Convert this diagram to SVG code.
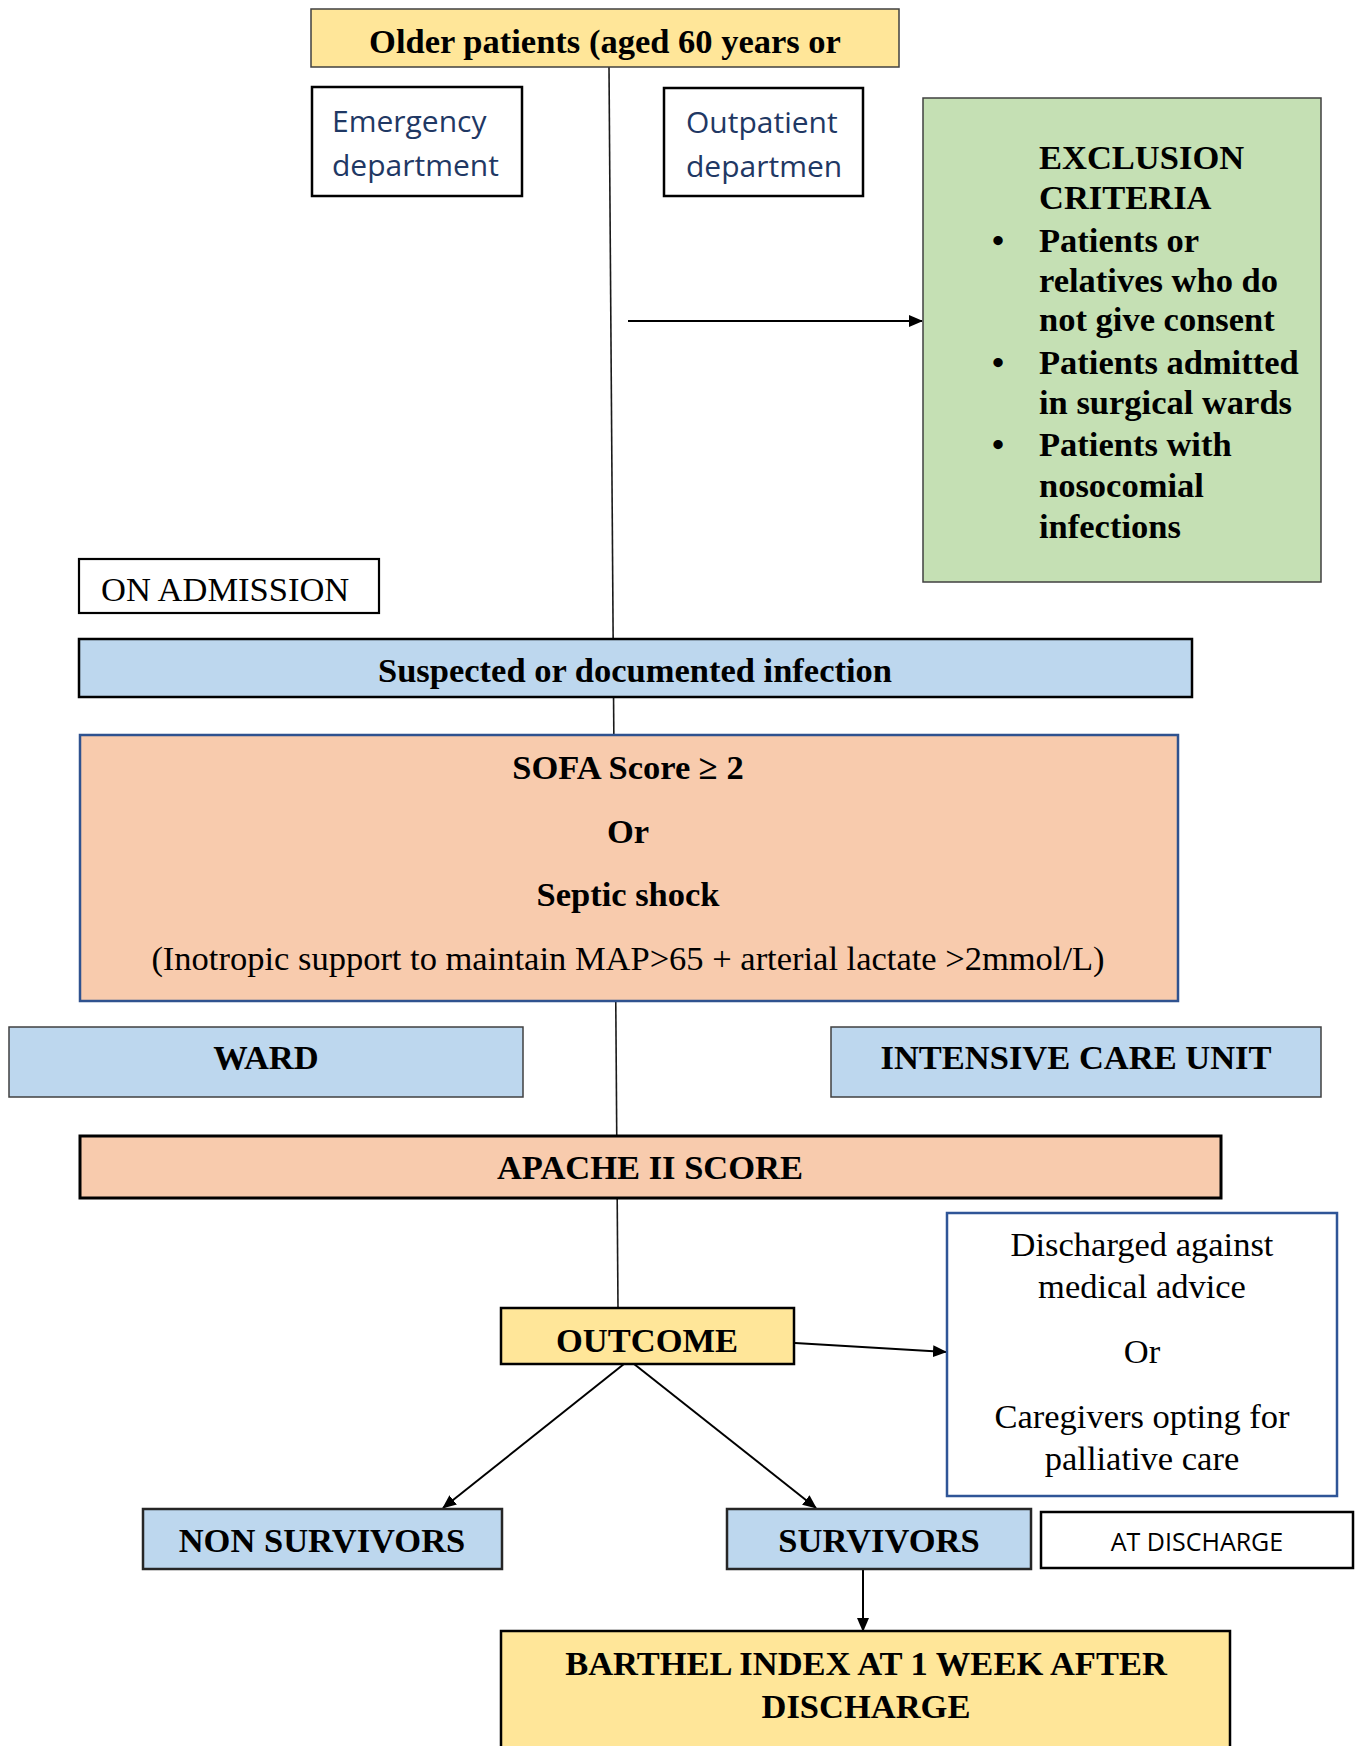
<svg xmlns="http://www.w3.org/2000/svg" width="1360" height="1746" viewBox="0 0 1360 1746">
<style>
.b{font-family:"Liberation Serif","Times New Roman",serif;font-weight:bold;font-size:34.5px;fill:#000}
.r{font-family:"Liberation Serif","Times New Roman",serif;font-size:34.5px;fill:#000}
.s{font-family:"Open Sans","Liberation Sans",sans-serif;font-size:30px;fill:#1F3864}
.m{text-anchor:middle}
.yel{fill:#FFE699}
.blu{fill:#BDD7EE}
.org{fill:#F8CBAD}
.grn{fill:#C5E0B4}
.wht{fill:#FFFFFF}
.line{stroke:#000;stroke-width:2;fill:none}
</style>
<defs>
<marker id="ah" markerUnits="userSpaceOnUse" markerWidth="14" markerHeight="12" refX="13" refY="6" orient="auto">
<path d="M0,0 L14,6 L0,12 Z" fill="#000"/>
</marker>
</defs>
<rect width="1360" height="1746" fill="#fff"/>
<g id="connectors">
<line x1="609" y1="67" x2="618" y2="1309" stroke="#1a1a1a" stroke-width="1.6"/>
<line class="line" x1="628" y1="321" x2="922" y2="321" marker-end="url(#ah)"/>
<line class="line" x1="795" y1="1343" x2="946" y2="1352" marker-end="url(#ah)"/>
<line class="line" x1="629" y1="1360" x2="443" y2="1508" marker-end="url(#ah)"/>
<line class="line" x1="629" y1="1360" x2="816" y2="1508" marker-end="url(#ah)"/>
<line class="line" x1="863" y1="1569" x2="863" y2="1631" marker-end="url(#ah)"/>
</g>
<g id="older-patients">
<rect class="yel" x="311" y="9" width="588" height="58" stroke="#404040" stroke-width="1.5"/>
<text class="b m" x="605" y="53">Older patients (aged 60 years or</text>
</g>
<g id="emergency">
<rect class="wht" x="312" y="87" width="210" height="109" stroke="#000" stroke-width="2.5"/>
<text class="s" x="332" y="132">Emergency</text>
<text class="s" x="332" y="176">department</text>
</g>
<g id="outpatient">
<rect class="wht" x="664" y="88" width="199" height="108" stroke="#000" stroke-width="2.5"/>
<text class="s" x="686" y="133">Outpatient</text>
<text class="s" x="686" y="177">departmen</text>
</g>
<g id="exclusion">
<rect class="grn" x="923" y="98" width="398" height="484" stroke="#404040" stroke-width="1.5"/>
<text class="b" x="1039" y="169">EXCLUSION</text>
<text class="b" x="1039" y="209">CRITERIA</text>
<text class="b m" x="998" y="252">•</text>
<text class="b" x="1039" y="252">Patients or</text>
<text class="b" x="1039" y="292">relatives who do</text>
<text class="b" x="1039" y="331">not give consent</text>
<text class="b m" x="998" y="374">•</text>
<text class="b" x="1039" y="374">Patients admitted</text>
<text class="b" x="1039" y="414">in surgical wards</text>
<text class="b m" x="998" y="456">•</text>
<text class="b" x="1039" y="456">Patients with</text>
<text class="b" x="1039" y="497">nosocomial</text>
<text class="b" x="1039" y="538">infections</text>
</g>
<g id="on-admission">
<rect class="wht" x="79" y="559" width="300" height="54" stroke="#000" stroke-width="2.2"/>
<text class="r" x="101" y="601">ON ADMISSION</text>
</g>
<g id="suspected">
<rect class="blu" x="79" y="639" width="1113" height="58" stroke="#000" stroke-width="2.5"/>
<text class="b m" x="635" y="682">Suspected or documented infection</text>
</g>
<g id="sofa">
<rect class="org" x="80" y="735" width="1098" height="266" stroke="#2F528F" stroke-width="2.5"/>
<text class="b m" x="628" y="779">SOFA Score ≥ 2</text>
<text class="b m" x="628" y="843">Or</text>
<text class="b m" x="628" y="906">Septic shock</text>
<text class="r m" x="628" y="970">(Inotropic support to maintain MAP&gt;65 + arterial lactate &gt;2mmol/L)</text>
</g>
<g id="ward">
<rect class="blu" x="9" y="1027" width="514" height="70" stroke="#404040" stroke-width="1.5"/>
<text class="b m" x="266" y="1069">WARD</text>
</g>
<g id="icu">
<rect class="blu" x="831" y="1027" width="490" height="70" stroke="#404040" stroke-width="1.5"/>
<text class="b m" x="1076" y="1069">INTENSIVE CARE UNIT</text>
</g>
<g id="apache">
<rect class="org" x="80" y="1136" width="1141" height="62" stroke="#000" stroke-width="3"/>
<text class="b m" x="650" y="1179">APACHE II SCORE</text>
</g>
<g id="outcome">
<rect class="yel" x="501" y="1308" width="293" height="56" stroke="#000" stroke-width="2.5"/>
<text class="b m" x="647" y="1352">OUTCOME</text>
</g>
<g id="discharged">
<rect class="wht" x="947" y="1213" width="390" height="283" stroke="#2F5597" stroke-width="2.5"/>
<text class="r m" x="1142" y="1256">Discharged against</text>
<text class="r m" x="1142" y="1298">medical advice</text>
<text class="r m" x="1142" y="1363">Or</text>
<text class="r m" x="1142" y="1428">Caregivers opting for</text>
<text class="r m" x="1142" y="1470">palliative care</text>
</g>
<g id="non-survivors">
<rect class="blu" x="143" y="1509" width="359" height="60" stroke="#262626" stroke-width="2.5"/>
<text class="b m" x="322" y="1552">NON SURVIVORS</text>
</g>
<g id="survivors">
<rect class="blu" x="727" y="1509" width="304" height="60" stroke="#262626" stroke-width="2.5"/>
<text class="b m" x="879" y="1552">SURVIVORS</text>
</g>
<g id="at-discharge">
<rect class="wht" x="1041" y="1512" width="312" height="56" stroke="#000" stroke-width="2.5"/>
<text x="1197" y="1551" text-anchor="middle" font-family="Open Sans, Liberation Sans, sans-serif" font-size="25" fill="#000">AT DISCHARGE</text>
</g>
<g id="barthel">
<rect class="yel" x="501" y="1631" width="729" height="140" stroke="#000" stroke-width="2.5"/>
<text class="b m" x="866" y="1675">BARTHEL INDEX AT 1 WEEK AFTER</text>
<text class="b m" x="866" y="1718">DISCHARGE</text>
</g>
</svg>
